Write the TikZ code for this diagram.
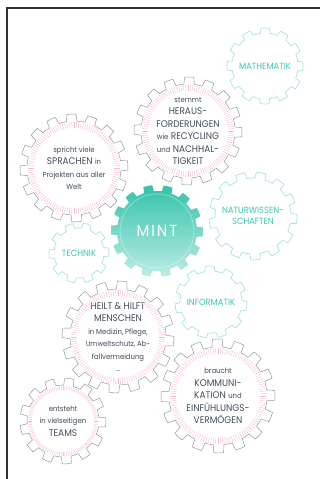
\documentclass[tikz,border=0pt]{standalone}
\usepackage{fontspec}
\setmainfont[FakeStretch=0.93]{Poppins}
\usetikzlibrary{positioning}
\definecolor{slate}{HTML}{3F4B5A}
\definecolor{rimgray}{HTML}{8C9099}
\definecolor{blush}{HTML}{F6BDD2}
\definecolor{mint}{HTML}{33C3A9}
\definecolor{mintlight}{HTML}{BCEDE5}
\definecolor{tealtext}{HTML}{3DC3B2}
\definecolor{tealrim}{HTML}{A9E3DA}
\newcommand{\lite}[1]{{\fontsize{7.4}{9}\selectfont #1}}
\newcommand{\cog}[5]{% node, teeth, rim radius, tip radius, path options
  \path[#5,shift={(#1)}] (0:#3)
    \foreach \k in {1,...,#2}{
      arc[start angle={360/#2*(\k-1)}, end angle={360/#2*(\k-0.56)}, radius=#3]
      -- ({360/#2*(\k-0.5)}:#4)
      arc[start angle={360/#2*(\k-0.5)}, end angle={360/#2*(\k-0.06)}, radius=#4]
      -- ({360/#2*\k}:#3)
    } -- cycle;}
\newcommand{\hatchring}[3]{% node, inner radius, outer radius
  \foreach \t in {0,3,...,357} \draw[hatch,shift={(#1)}] (\t:#2) -- (\t:#3);}
\tikzset{
  say/.style={align=center,text=slate,inner sep=0pt,font=\fontsize{9.6}{12.5}\selectfont},
  field/.style={align=center,text=tealtext,inner sep=0pt,font=\fontsize{9}{11.5}\selectfont},
  rim/.style={draw=rimgray,line width=0.45pt,line join=round},
  fieldrim/.style={draw=tealrim,line width=0.7pt,line join=round},
  hatch/.style={draw=blush,line width=0.4pt},
  core/.style={top color=mint,bottom color=mintlight,draw=none}
}
\begin{document}
\begin{tikzpicture}[x=1pt,y=1pt]
  \useasboundingbox (0,0) rectangle (320,479);
  \draw[line width=1.1pt,black!80] (7,0) -- (7,471) -- (320,471);

  % text in the gears
  \node[field] (mathe) at (265,413) {MATHEMATIK};
  \node[say] (heraus) at (188,348) {\lite{stemmt}\\HERAUS-\\FORDERUNGEN\\\lite{wie} RECYCLING\\\lite{und} NACHHAL-\\TIGKEIT};
  \node[say] (sprachen) at (74,311) {\lite{spricht viele}\\SPRACHEN \lite{in}\\\lite{Projekten aus aller}\\\lite{Welt}};
  \node[field] (natur) at (253,263) {NATURWISSEN-\\SCHAFTEN};
  \node[field] (technik) at (79,226) {TECHNIK};
  \node[field] (informatik) at (211,177) {INFORMATIK};
  \node[say] (heilt) at (118,142) {HEILT \& HILFT\\MENSCHEN\\\lite{in Medizin, Pflege,}\\\lite{Umweltschutz, Ab-}\\\lite{fallvermeidung}\\\lite{...}};
  \node[say] (teams) at (63,58) {\lite{entsteht}\\\lite{in vielseitigen}\\TEAMS};
  \node[say] (kommuni) at (218,83) {\lite{braucht}\\KOMMUNI-\\KATION \lite{und}\\EINFÜHLUNGS-\\VERMÖGEN};

  % gears
  \cog{mathe}{12}{33}{38}{fieldrim,rotate=8}
  \cog{natur}{13}{38}{44}{fieldrim,rotate=4}
  \cog{technik}{10}{25}{30}{fieldrim,rotate=12}
  \cog{informatik}{11}{31}{36}{fieldrim,rotate=3}
  \cog{heraus}{16}{47}{54}{rim,rotate=5}
  \hatchring{heraus}{40}{46}
  \cog{sprachen}{16}{47}{54}{rim,rotate=9}
  \hatchring{sprachen}{40}{46}
  \cog{heilt}{16}{48}{56}{rim,rotate=2}
  \hatchring{heilt}{41}{47}
  \cog{teams}{13}{36}{43}{rim,rotate=6}
  \hatchring{teams}{31}{35}
  \cog{kommuni}{16}{49}{57}{rim,rotate=7}
  \hatchring{kommuni}{42}{48}

  % the centre gear
  \coordinate (hub) at (157,248);
  \cog{hub}{14}{40}{46}{core,rotate=6}
  \draw[white,opacity=0.35,line width=0.8pt] (hub) circle[radius=37];
  \node[text=white,font=\fontsize{16}{16}\selectfont\addfontfeature{LetterSpace=12}] (mint) at (hub) {MINT};
\end{tikzpicture}
\end{document}
